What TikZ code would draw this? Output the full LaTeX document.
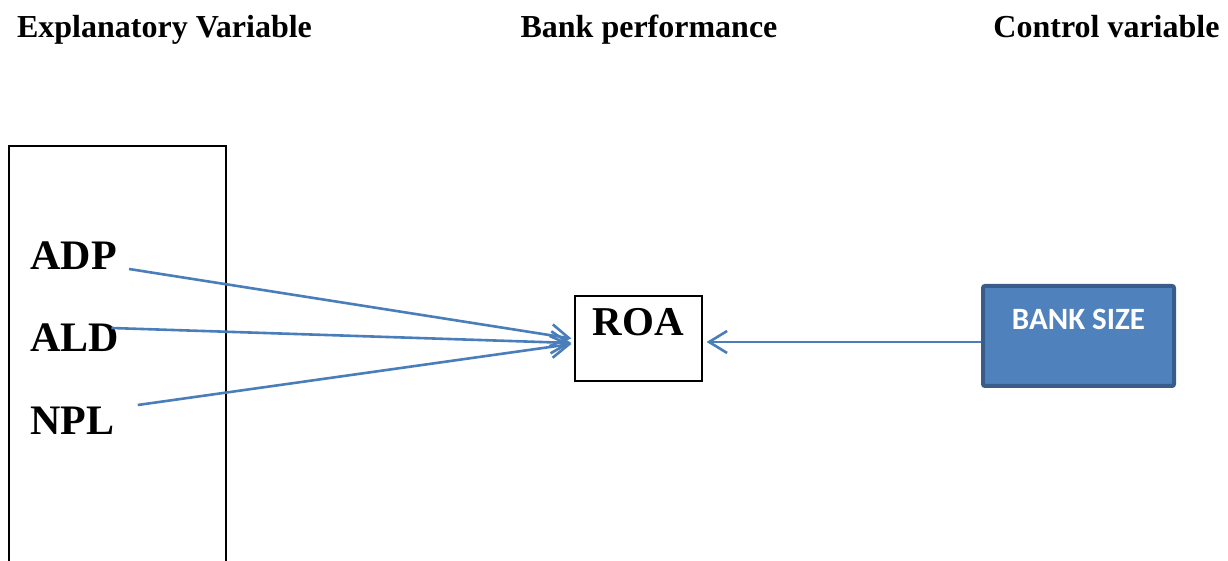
\documentclass[tikz,border=0pt]{standalone}
\usepackage{fontspec}
\setmainfont{Liberation Serif}
\newfontfamily\calibrifont{Carlito}
\usepackage{tikz}
\usetikzlibrary{arrows.meta,positioning,calc}
\definecolor{linkblue}{HTML}{4A7EBB}
\definecolor{sizefill}{HTML}{4F81BD}
\definecolor{sizedraw}{HTML}{385D8A}
\tikzset{
  headlabel/.style={font=\fontsize{16}{19}\selectfont\bfseries,inner sep=0pt,anchor=base},
  varlabel/.style={font=\fontsize{21}{25}\selectfont\bfseries,inner sep=0pt,anchor=base west},
  roabox/.style={draw=black,line width=0.6pt,minimum width=63.5pt,inner xsep=0pt,inner ysep=0pt,
    text height=20pt,text depth=22.5pt,anchor=base,font=\fontsize{20.5}{24}\selectfont\bfseries},
  sizebox/.style={draw=sizedraw,fill=sizefill,line width=2pt,rounded corners=1pt,minimum width=95.5pt,
    inner xsep=0pt,inner ysep=0pt,text height=22pt,text depth=28pt,anchor=base,text=white,
    font=\calibrifont\fontsize{15.5}{18}\selectfont\bfseries},
  linkarrow/.style={-{Straight Barb[length=9pt,width=11pt]},draw=linkblue,line width=1.3pt}
}
\begin{document}
\begin{tikzpicture}[x=0.5pt,y=-0.5pt]
  \useasboundingbox (0,0) rectangle (1228,561);
  % column headings
  \node[headlabel] (explhead) at (164.5,38) {Explanatory Variable};
  \node[headlabel] (perfhead) at (649,38) {Bank performance};
  \node[headlabel] (ctrlhead) at (1106.5,38) {Control variable};
  % box of explanatory variables (open at the bottom)
  \draw[line width=0.6pt] (9,561) -- (9,146) -- (226,146) -- (226,561);
  \node[varlabel] (adp) at (30,270) {ADP};
  \node[varlabel] (ald) at (30,352) {ALD};
  \node[varlabel] (npl) at (30,435) {NPL};
  \node[roabox] (roa) at (638.5,336) {ROA};
  \node[sizebox] (bank) at (1078.5,330) {BANK SIZE};
  % arrows into ROA
  \coordinate (adpout) at ($(adp.base east)+(12,-1)$);
  \coordinate (aldout) at ($(ald.base east)+(-8,-24)$);
  \coordinate (nplout) at ($(npl.base east)+(23,-30)$);
  \draw[linkarrow] (adpout) -- ($(roa.west)+(-3,0)$);
  \draw[linkarrow] (aldout) -- ($(roa.west)+(-3,4.5)$);
  \draw[linkarrow] (nplout) -- ($(roa.west)+(-3,5.5)$);
  \draw[linkarrow] ($(bank.west)+(0,6)$) -- ($(roa.east)+(4,3.5)$);
\end{tikzpicture}
\end{document}
